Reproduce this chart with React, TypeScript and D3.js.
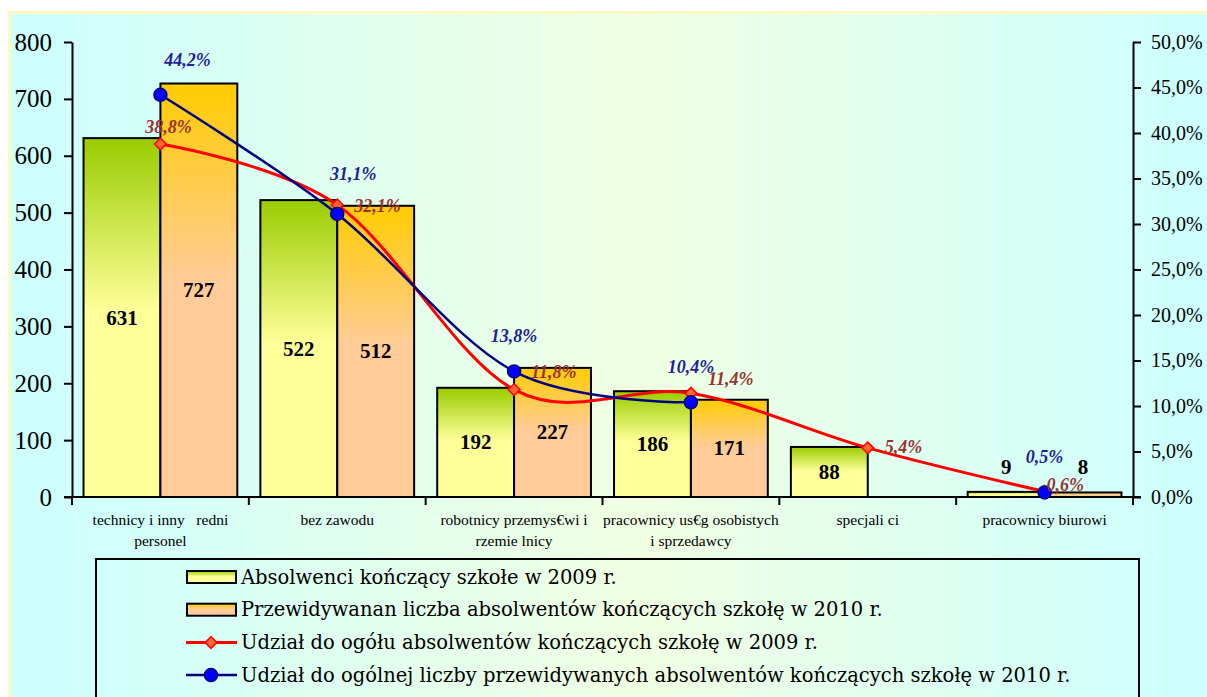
import React, { useEffect, useRef } from 'react';
import * as d3 from 'd3';

// category labels as printed in the source (with its broken glyphs)
const categories = [
    'technicy i inny   redni\npersonel',
    'bez zawodu',
    'robotnicy przemys€wi i\nrzemie lnicy',
    'pracownicy us€g osobistych\ni sprzedawcy',
    'specjali ci',
    'pracownicy biurowi',
];
const grads2009 = [631, 522, 192, 186, 88, 9];
const grads2010: (number | null)[] = [727, 512, 227, 171, null, 8];
const share2009 = [38.8, 32.1, 11.8, 11.4, 5.4, 0.6];
const share2010: (number | null)[] = [44.2, 31.1, 13.8, 10.4, null, 0.5];
const leftTicks = [0, 100, 200, 300, 400, 500, 600, 700, 800];
const rightTicks = [0, 5, 10, 15, 20, 25, 30, 35, 40, 45, 50];
const legendLabels = [
    'Absolwenci kończący szkołe w 2009 r.',
    'Przewidywanan liczba absolwentów kończących szkołę w 2010 r.',
    'Udział do ogółu absolwentów kończących szkołę w 2009 r.',
    'Udział do ogólnej liczby przewidywanych absolwentów kończących szkołę w 2010 r.',
];

const serif = '"Liberation Serif", "Times New Roman", serif';
const fmtPct = (v: number) => v.toFixed(1).replace('.', ',') + '%';

const App: React.FC = () => {
    const svgRef = useRef<SVGSVGElement>(null);

    useEffect(() => {
        document.body.style.margin = '0';
        if (!svgRef.current) return;
        const width = 1207;
        const height = 697;

        const svg = d3.select(svgRef.current);
        svg.selectAll('*').remove();
        svg.attr('width', width).attr('height', height).attr('viewBox', `0 0 ${width} ${height}`);

        const defs = svg.append('defs');
        const bg = defs.append('linearGradient').attr('id', 'bg').attr('x1', 0).attr('x2', 1).attr('y1', 0).attr('y2', 0);
        bg.append('stop').attr('offset', 0).attr('stop-color', '#CCFFFF');
        bg.append('stop').attr('offset', 0.52).attr('stop-color', '#F0FFE2');
        bg.append('stop').attr('offset', 1).attr('stop-color', '#CCFFFF');

        const mkGrad = (id: string, top: string, bottom: string) => {
            const g = defs.append('linearGradient').attr('id', id).attr('x1', 0).attr('x2', 0).attr('y1', 0).attr('y2', 1);
            g.append('stop').attr('offset', 0).attr('stop-color', top);
            g.append('stop').attr('offset', 0.48).attr('stop-color', bottom);
            g.append('stop').attr('offset', 1).attr('stop-color', bottom);
        };
        mkGrad('g2009', '#99CC00', '#FFFF99');
        mkGrad('g2010', '#FFCC00', '#FFCC99');

        // page + chart area
        svg.append('rect').attr('width', width).attr('height', height).attr('fill', '#fff');
        svg.append('rect')
            .attr('x', 9.5).attr('y', 12.5)
            .attr('width', width).attr('height', height)
            .attr('fill', 'url(#bg)')
            .attr('stroke', '#FFF8C0').attr('stroke-width', 3);

        const plot = { left: 72, right: 1133, top: 42, bottom: 497 };
        const x0 = d3.scaleBand<string>().domain(categories).range([plot.left, plot.right]);
        const x1 = d3.scaleBand<string>().domain(['2009', '2010']).range([0, x0.bandwidth()]).paddingOuter(0.15);
        const yL = d3.scaleLinear().domain([0, 800]).range([plot.bottom, plot.top]);
        const yR = d3.scaleLinear().domain([0, 50]).range([plot.bottom, plot.top]);
        const cx = (i: number) => (x0(categories[i]) as number) + x0.bandwidth() / 2;

        // bars
        const series = [
            { key: '2009', values: grads2009 as (number | null)[], fill: 'url(#g2009)' },
            { key: '2010', values: grads2010, fill: 'url(#g2010)' },
        ];
        series.forEach(s => {
            s.values.forEach((v, i) => {
                if (v == null) return;
                const bx = (x0(categories[i]) as number) + (x1(s.key) as number);
                svg.append('rect')
                    .attr('x', bx).attr('y', yL(v))
                    .attr('width', x1.bandwidth()).attr('height', yL(0) - yL(v))
                    .attr('fill', s.fill)
                    .attr('stroke', '#000').attr('stroke-width', 2);
            });
        });

        // bar value labels
        series.forEach(s => {
            s.values.forEach((v, i) => {
                if (v == null) return;
                const bx = (x0(categories[i]) as number) + (x1(s.key) as number) + x1.bandwidth() / 2;
                const h = yL(0) - yL(v);
                const ly = h < 30 ? yL(v) - 25 : (yL(v) + yL(0)) / 2;
                svg.append('text')
                    .attr('x', bx).attr('y', ly)
                    .attr('text-anchor', 'middle').attr('dominant-baseline', 'central')
                    .style('font-family', serif).style('font-weight', 'bold').style('font-size', '21px')
                    .text(v);
            });
        });

        // axes
        const axL = svg.append('g').attr('transform', `translate(${plot.left},0)`)
            .call(d3.axisLeft(yL).tickValues(leftTicks).tickSize(8).tickSizeOuter(0).tickPadding(12));
        axL.selectAll('text').style('font-family', serif).style('font-size', '25px').attr('fill', '#000');
        const axR = svg.append('g').attr('transform', `translate(${plot.right},0)`)
            .call(d3.axisRight(yR).tickValues(rightTicks).tickSize(8).tickSizeOuter(0).tickPadding(10)
                .tickFormat(d => fmtPct(d as number)));
        axR.selectAll('text').style('font-family', serif).style('font-size', '20px').attr('fill', '#000');
        [axL, axR].forEach(a => {
            a.selectAll('path, line').attr('stroke', '#000').attr('stroke-width', 2);
        });

        // category axis
        const xa = svg.append('g');
        xa.append('line').attr('x1', plot.left - 8).attr('x2', plot.right + 8)
            .attr('y1', plot.bottom).attr('y2', plot.bottom)
            .attr('stroke', '#000').attr('stroke-width', 2);
        const bounds = categories.map(c => x0(c) as number).concat([plot.right]);
        xa.selectAll('.tk').data(bounds).enter().append('line')
            .attr('x1', d => d).attr('x2', d => d)
            .attr('y1', plot.bottom).attr('y2', plot.bottom + 8)
            .attr('stroke', '#000').attr('stroke-width', 2);
        categories.forEach((c, i) => {
            const t = xa.append('text')
                .attr('text-anchor', 'middle')
                .style('font-family', serif).style('font-size', '15.5px').style('white-space', 'pre');
            c.split('\n').forEach((ln, j) => {
                t.append('tspan').attr('x', cx(i)).attr('y', 525 + j * 21).text(ln);
            });
        });

        // share lines
        const line = d3.line<[number, number | null]>()
            .defined(d => d[1] != null)
            .x(d => d[0])
            .y(d => yR(d[1] as number))
            .curve(d3.curveCardinal.tension(0));
        svg.append('path')
            .attr('d', line(share2009.map((v, i) => [cx(i), v])))
            .attr('fill', 'none').attr('stroke', '#FF0000').attr('stroke-width', 3);
        svg.append('path')
            .attr('d', line(share2010.map((v, i) => [cx(i), v])))
            .attr('fill', 'none').attr('stroke', '#000080').attr('stroke-width', 2.5);

        const diamond = d3.symbol(d3.symbolSquare, 70);
        share2009.forEach((v, i) => {
            svg.append('path')
                .attr('d', diamond())
                .attr('transform', `translate(${cx(i)},${yR(v)}) rotate(45)`)
                .attr('fill', '#FF6633').attr('stroke', '#FF0000').attr('stroke-width', 1.5);
        });
        share2010.forEach((v, i) => {
            if (v == null) return;
            svg.append('circle')
                .attr('cx', cx(i)).attr('cy', yR(v)).attr('r', 6.5)
                .attr('fill', '#0000FF').attr('stroke', '#000080').attr('stroke-width', 1.5);
        });

        // share labels: 2010 above the point, 2009 to the right (first one above)
        const lblStyle = (t: d3.Selection<SVGTextElement, unknown, null, undefined>, color: string) =>
            t.style('font-family', serif).style('font-weight', 'bold').style('font-style', 'italic')
                .style('font-size', '18px').attr('fill', color).attr('dominant-baseline', 'central');
        share2010.forEach((v, i) => {
            if (v == null) return;
            const dy = i === 1 ? 40 : 35;
            lblStyle(svg.append('text')
                .attr('x', cx(i) + (i === 0 ? 27 : i === 1 ? 16 : 0)).attr('y', yR(v) - dy)
                .attr('text-anchor', 'middle').text(fmtPct(v)), '#1F1F99');
        });
        const redDy = [17, -1, 18, 14, 1, 7];
        share2009.forEach((v, i) => {
            const first = i === 0;
            const last = i === share2009.length - 1;
            lblStyle(svg.append('text')
                .attr('x', first ? cx(i) + 8 : cx(i) + (last ? 2 : 17))
                .attr('y', yR(v) - redDy[i])
                .attr('text-anchor', first ? 'middle' : 'start').text(fmtPct(v)), '#993333');
        });

        // legend
        const lg = svg.append('g');
        lg.append('rect').attr('x', 96).attr('y', 559).attr('width', 1043).attr('height', 200)
            .attr('fill', 'none').attr('stroke', '#000').attr('stroke-width', 2);
        legendLabels.forEach((label, i) => {
            const ly = 577 + i * 32.7;
            if (i < 2) {
                lg.append('rect').attr('x', 187).attr('y', ly - 6).attr('width', 49).attr('height', 12)
                    .attr('fill', i === 0 ? 'url(#g2009)' : 'url(#g2010)')
                    .attr('stroke', '#000').attr('stroke-width', 2);
            } else {
                lg.append('line').attr('x1', 186).attr('x2', 237).attr('y1', ly).attr('y2', ly)
                    .attr('stroke', i === 2 ? '#FF0000' : '#000080').attr('stroke-width', i === 2 ? 3 : 2.5);
                if (i === 2) {
                    lg.append('path').attr('d', diamond())
                        .attr('transform', `translate(211,${ly}) rotate(45)`)
                        .attr('fill', '#FF6633').attr('stroke', '#FF0000').attr('stroke-width', 1.5);
                } else {
                    lg.append('circle').attr('cx', 211).attr('cy', ly).attr('r', 6.5)
                        .attr('fill', '#0000FF').attr('stroke', '#000080').attr('stroke-width', 1.5);
                }
            }
            lg.append('text').attr('x', 241).attr('y', ly)
                .attr('dominant-baseline', 'central')
                .style('font-family', '"DejaVu Serif", serif').style('font-size', '19.5px')
                .text(label);
        });
    }, []);

    return <svg ref={svgRef} style={{ display: 'block' }} />;
};

export default App;
